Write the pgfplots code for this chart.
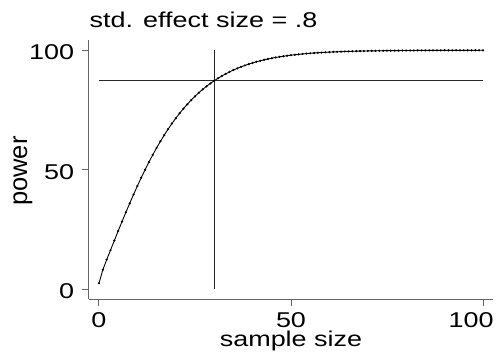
\documentclass[border=0pt]{standalone}
\usepackage{pgfplots}
\pgfplotsset{compat=1.18}
\usepackage{graphicx}
\usepackage{fontspec}
\setmainfont{Liberation Sans}
\newcommand{\wide}[1]{\scalebox{1.26}[1]{#1}}
\begin{document}
\begin{tikzpicture}[font=\fontsize{21.4bp}{26bp}\selectfont]
\begin{axis}[
  scale only axis, width=404bp, height=259bp,
  xmin=-2.6, xmax=102.6, ymin=-4.1, ymax=104.3,
  axis lines*=left,
  axis line style={black!60, line width=1bp},
  tick style={black!60, line width=1bp},
  major tick length=7bp, tick align=outside,
  xtick={0,50,100}, ytick={0,50,100},
  xticklabels={\wide{0},\wide{50},\hspace*{-24bp}\wide{100}},
  yticklabels={\wide{0},\wide{50},\wide{100}},
  x tick label style={anchor=north, inner sep=0pt, yshift=-5.9bp},
  y tick label style={anchor=east, inner sep=0pt, xshift=-7.7bp, yshift=-2bp},
  clip=false,
]
\coordinate (bl) at (rel axis cs:0,0);
\coordinate (tr) at (rel axis cs:1,1);
\coordinate (tl) at (rel axis cs:0,1);
\coordinate (bm) at (rel axis cs:0.5,0);
\coordinate (lm) at (rel axis cs:0,0.494);
\addplot[black!85, line width=0.9bp] coordinates {(0,87.2) (100,87.2)};
\addplot[black!85, line width=0.9bp] coordinates {(30,0) (30,100)};
\addplot[black, line width=0.9bp, mark=*, mark size=0.6bp] table {
x y
0 2.50
1 8.14
2 12.30
3 16.35
4 20.37
5 24.35
6 28.29
7 32.16
8 35.94
9 39.63
10 43.20
11 46.66
12 49.98
13 53.17
14 56.22
15 59.13
16 61.90
17 64.52
18 67.00
19 69.35
20 71.56
21 73.64
22 75.59
23 77.42
24 79.14
25 80.74
26 82.24
27 83.63
28 84.93
29 86.13
30 87.25
31 88.29
32 89.25
33 90.14
34 90.96
35 91.72
36 92.42
37 93.07
38 93.66
39 94.21
40 94.71
41 95.18
42 95.60
43 95.99
44 96.35
45 96.67
46 96.97
47 97.25
48 97.50
49 97.72
50 97.93
51 98.12
52 98.30
53 98.45
54 98.60
55 98.73
56 98.85
57 98.96
58 99.06
59 99.15
60 99.23
61 99.30
62 99.37
63 99.43
64 99.49
65 99.53
66 99.58
67 99.62
68 99.66
69 99.69
70 99.72
71 99.75
72 99.77
73 99.80
74 99.82
75 99.84
76 99.85
77 99.87
78 99.88
79 99.89
80 99.90
81 99.91
82 99.92
83 99.93
84 99.935
85 99.94
86 99.95
87 99.955
88 99.96
89 99.965
90 99.967
91 99.97
92 99.975
93 99.977
94 99.98
95 99.981
96 99.984
97 99.986
98 99.987
99 99.988
100 99.989
};
\end{axis}
\node[anchor=base west, inner sep=0pt] at ([shift={(0.5bp,12bp)}]tl) {\wide{std. effect size = .8}};
\node[anchor=base, inner sep=0pt] at ([shift={(0bp,-47.7bp)}]bm) {\wide{sample size}};
\node[anchor=base, inner sep=0pt, rotate=90, font=\fontsize{25.5bp}{30bp}\selectfont] at ([shift={(-61.8bp,0bp)}]lm) {power};
\pgfresetboundingbox
\path[use as bounding box] ([shift={(-89bp,-57bp)}]bl) rectangle ([shift={(3bp,40bp)}]tr);
\end{tikzpicture}
\end{document}
